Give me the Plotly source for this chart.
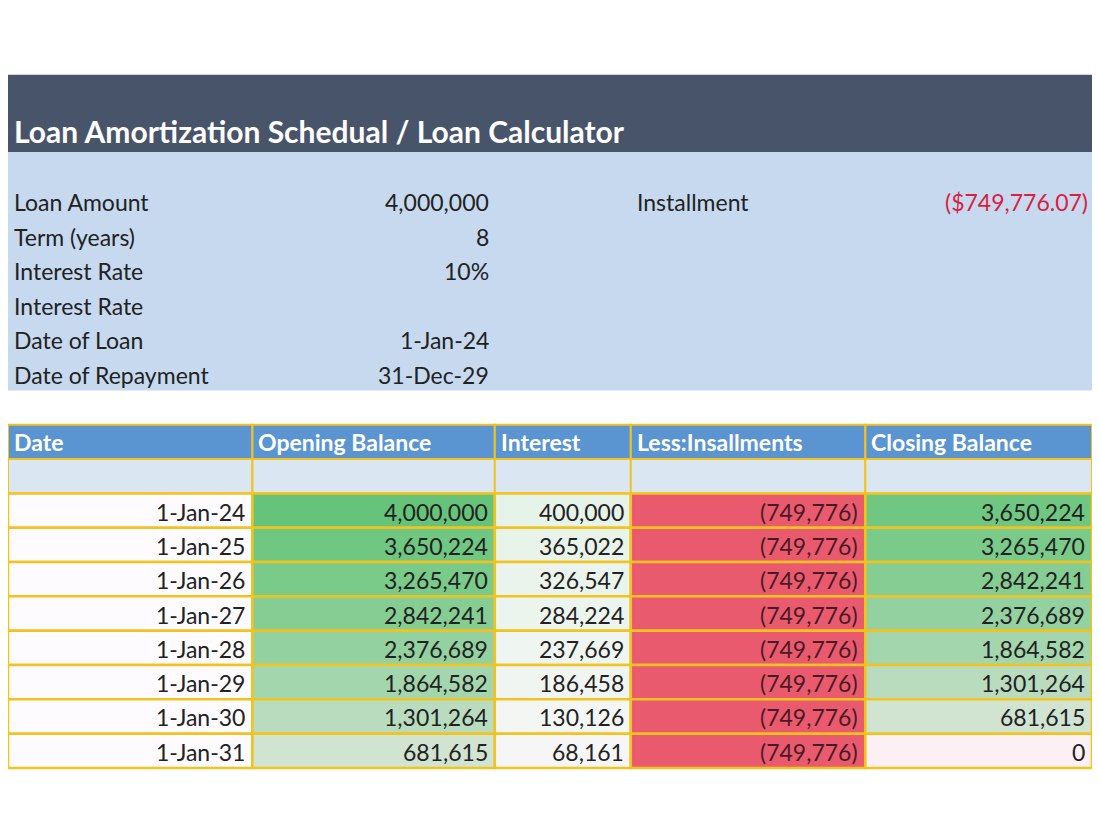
import plotly.graph_objects as go

# --- data ---
title = "Loan Amortization Schedual / Loan Calculator"
info_labels = ["Loan Amount", "Term (years)", "Interest Rate", "Interest Rate",
               "Date of Loan", "Date of Repayment"]
info_values = ["4,000,000", "8", "10%", "", "1-Jan-24", "31-Dec-29"]
installment_label = "Installment"
installment_value = "($749,776.07)"

headers = ["Date", "Opening Balance", "Interest", "Less:Insallments", "Closing Balance"]
dates = ["1-Jan-24", "1-Jan-25", "1-Jan-26", "1-Jan-27",
         "1-Jan-28", "1-Jan-29", "1-Jan-30", "1-Jan-31"]
opening = [4000000, 3650224, 3265470, 2842241, 2376689, 1864582, 1301264, 681615]
interest = [400000, 365022, 326547, 284224, 237669, 186458, 130126, 68161]
installments = [-749776] * 8
closing = [3650224, 3265470, 2842241, 2376689, 1864582, 1301264, 681615, 0]

FONT = "Lato, 'Open Sans', sans-serif"
col_edges = [0, 248, 494, 632, 870, 1100]
YELLOW = "#f2c31f"


def mix(c1, c2, t):
    a = [int(c1[i:i + 2], 16) for i in (1, 3, 5)]
    b = [int(c2[i:i + 2], 16) for i in (1, 3, 5)]
    return "#" + "".join(f"{round(x + (y - x) * t):02x}" for x, y in zip(a, b))


def green(v, vmax):
    t = (v / vmax) ** 0.7
    return mix("#fcf0f5", "#66c47a", t)


def fmt(v):
    return f"({abs(v):,})" if v < 0 else f"{v:,}"


shapes, ann = [], []


def rect(x0, y0, x1, y1, fill, line=None, w=0):
    shapes.append(dict(type="rect", x0=x0, x1=x1, y0=y0, y1=y1, fillcolor=fill,
                       line=dict(color=line or fill, width=w), layer="below"))


def text(x, y, s, anchor="left", color="#222", size=23, bold=False):
    ann.append(dict(x=x, y=y, text=f"<b>{s}</b>" if bold else s, showarrow=False,
                    xanchor=anchor, yanchor="middle",
                    font=dict(family=FONT, size=size, color=color)))


# top banner
rect(0, 68, 1100, 147, "#48546a")
text(4, 125, title, color="white", size=30, bold=True)
rect(0, 147, 1100, 390, "#c6d9ef")
for i, (lab, val) in enumerate(zip(info_labels, info_values)):
    y = 198 + i * 35.2
    text(4, y, lab)
    text(490, y, val, anchor="right")
text(636, 198, installment_label)
text(1098, 198, installment_value, anchor="right", color="#d8203f")

# table header
for c, h in enumerate(headers):
    x0, x1 = col_edges[c], col_edges[c + 1]
    rect(x0, 425, x1, 460, "#5b95d1", YELLOW, 2)
    text(x0 + 4, 443, h, color="white", size=23, bold=True)
    rect(x0, 460, x1, 495, "#dbe6f3", YELLOW, 2)

# data rows
vmax = max(opening)
for r in range(len(dates)):
    y0 = 495 + r * 35
    y1 = y0 + 35
    ym = (y0 + y1) / 2 + 1
    cells = [
        (dates[r], "#fdfbfd", "#222"),
        (fmt(opening[r]), green(opening[r], vmax), "#222"),
        (fmt(interest[r]), mix("#fbf7fa", "#e6f3e9", interest[r] / max(interest)), "#222"),
        (fmt(installments[r]), "#e95a6f", "#4a1a22"),
        (fmt(closing[r]), green(closing[r], vmax), "#222"),
    ]
    for c, (s, fill, fc) in enumerate(cells):
        x0, x1 = col_edges[c], col_edges[c + 1]
        rect(x0, y0, x1, y1, fill, YELLOW, 2.5)
        text(x1 - 5, ym, s, anchor="right", color=fc)

fig = go.Figure()
fig.add_trace(go.Scatter(x=[0, 1100], y=[0, 825], mode="markers",
                         marker=dict(opacity=0), hoverinfo="skip"))
fig.update_layout(
    width=1084, height=809, margin=dict(l=0, r=0, t=0, b=0),
    paper_bgcolor="white", plot_bgcolor="white", showlegend=False,
    xaxis=dict(range=[0, 1100], visible=False, fixedrange=True),
    yaxis=dict(range=[825, 0], visible=False, fixedrange=True),
    shapes=shapes, annotations=ann,
)
fig.write_html("out.html", config={"displayModeBar": False})
